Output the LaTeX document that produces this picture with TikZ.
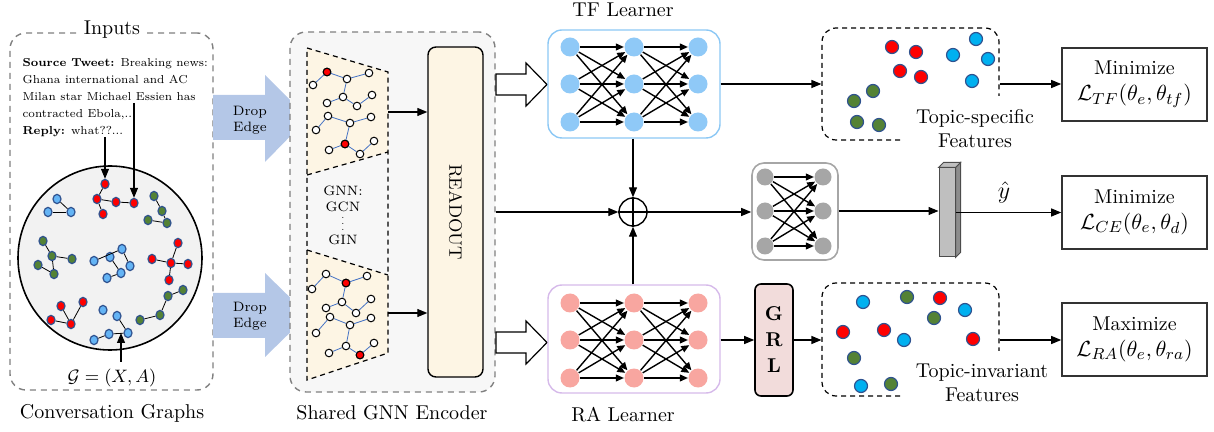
\documentclass[tikz,border=0pt]{standalone}
\usepackage{amsmath,amssymb}
\usepackage{tikz}
\usepackage{xcolor}
\usetikzlibrary{arrows.meta,shapes.geometric,calc}

\definecolor{convbg}{RGB}{242,242,242}
\definecolor{nborder}{RGB}{47,82,143}
\definecolor{nblue}{RGB}{100,180,245}
\definecolor{nred}{RGB}{255,0,0}
\definecolor{ngreen}{RGB}{84,130,53}
\definecolor{fcyan}{RGB}{0,176,240}
\definecolor{dropblue}{RGB}{180,199,231}
\definecolor{cream}{RGB}{253,245,228}
\definecolor{encbg}{RGB}{247,247,247}
\definecolor{tfblue}{RGB}{143,201,247}
\definecolor{tfline}{RGB}{140,200,245}
\definecolor{rapink}{RGB}{248,166,160}
\definecolor{raline}{RGB}{214,186,234}
\definecolor{clsgray}{RGB}{166,166,166}
\definecolor{grlfill}{RGB}{242,220,219}
\definecolor{bargray}{RGB}{191,191,191}
\definecolor{barside}{RGB}{140,140,140}
\definecolor{edgeblue}{RGB}{68,114,196}

\tikzset{
  dashbox/.style={draw=gray, dash pattern=on 3pt off 2.5pt, rounded corners=8pt, line width=0.7pt},
  featbox/.style={draw, dash pattern=on 2.5pt off 2pt, rounded corners=7pt, line width=0.6pt},
  lossbox/.style={draw=black!80, line width=0.8pt, minimum width=72.5pt, minimum height=36.5pt, align=center},
  nnarrow/.style={-{Triangle[length=4pt,width=3.4pt]}, line width=0.7pt},
  fdot/.style={circle, draw=nborder, line width=0.6pt, inner sep=0pt, minimum size=6.5pt},
}

\begin{document}
\begin{tikzpicture}[x=0.5pt, y=-0.5pt, >={Triangle[length=5pt,width=4pt]}, line width=0.6pt]
\useasboundingbox (0,0) rectangle (1214,432);

% ---------- inputs
\node[dashbox, minimum width=101.5pt, minimum height=178.5pt] (inbox) at (111.5,211.5) {};
\node[fill=white, inner sep=2pt] (intitle) at (112,30) {Inputs};
\node (convlabel) at (112,413) {Conversation Graphs};
\node[anchor=north west, inner sep=0pt] (tweet) at (22,54)
  {\scalebox{0.85}{\fontsize{6.8}{10}\selectfont\begin{tabular}{@{}l@{}}
   \textbf{Source Tweet:} Breaking news:\\Ghana international and AC\\Milan star Michael Essien has\\contracted Ebola,...\\\textbf{Reply:} what??...
   \end{tabular}}};
\node[circle, draw, fill=convbg, minimum size=92pt, line width=0.8pt] (conv) at (110,258) {};

\begin{scope}[every node/.style={ellipse, draw=nborder, line width=0.6pt, inner sep=0pt, minimum width=4pt, minimum height=4.6pt}]
  \foreach \n/\x/\y in {ra1/105/184, ra2/97/199, ra3/116/202, ra4/134/203, ra5/103/214,
                         rf1/178/243, rf2/152/259, rf3/171/263, rf4/188/264, rf5/169/280,
                         rg1/61/306, rg2/83/302, rg3/51/320, rg4/71/324}
    \node[fill=nred] (\n) at (\x,\y) {};
  \foreach \n/\x/\y in {bb1/57/199, bb2/48/212, bb3/71/212,
                         be1/94/261, be2/110/257, be3/122/249, be4/130/266, be5/121/273, be6/107/278,
                         bh1/103/310, bh2/117/316, bh3/128/333, bh4/109/334, bh5/94/340}
    \node[fill=nblue] (\n) at (\x,\y) {};
  \foreach \n/\x/\y in {gc1/154/196, gc2/162/211, gc3/148/220, gc4/167/223,
                         gd1/43/241, gd2/52/256, gd3/72/259, gd4/38/265, gd5/54/274,
                         gi1/183/290, gi2/168/296, gi3/160/315, gi4/140/320}
    \node[fill=ngreen] (\n) at (\x,\y) {};
\end{scope}
\foreach \a/\b in {ra1/ra2, ra2/ra3, ra3/ra4, ra2/ra5, bb1/bb3, bb2/bb3,
                   gc1/gc2, gc2/gc4, gc3/gc4, gd1/gd2, gd2/gd3, gd2/gd5, gd4/gd5,
                   be1/be3, be3/be4, be2/be5, be5/be6, rf3/rf1, rf3/rf2, rf3/rf4, rf3/rf5,
                   rg1/rg4, rg2/rg4, rg3/rg4, bh2/bh3, bh3/bh4, bh4/bh5, gi1/gi2, gi2/gi3, gi3/gi4}
  \draw[line width=0.4pt] (\a) -- (\b);

\coordinate (rpl) at (105,137);
\coordinate (src) at (134,103);
\draw[->] (rpl) -- (ra1);
\draw[->] (src) -- (ra4);
\node[font=\small] (glabel) at (112,378) {$\mathcal{G}=(X,A)$};
\coordinate (gtip) at (121,333);
\draw[->] (glabel.north -| gtip) -- (gtip);

% ---------- drop edge
\fill[dropblue] (213,95) -- (265,95) -- (265,75) -- (308,118) -- (265,162) -- (265,140) -- (213,140) -- cycle;
\fill[dropblue] (213,293) -- (265,293) -- (265,273) -- (308,315) -- (265,357) -- (265,338) -- (213,338) -- cycle;
\node[align=center, font=\fontsize{6.8}{8}\selectfont] (drop1) at (250,120) {Drop\\Edge};
\node[align=center, font=\fontsize{6.8}{8}\selectfont] (drop2) at (250,316) {Drop\\Edge};

% ---------- shared encoder
\node[dashbox, fill=encbg, minimum width=102.5pt, minimum height=180pt] (encbox) at (392.5,212) {};
\node (enclabel) at (392,413) {Shared GNN Encoder};
\fill[cream] (307,48) -- (388,72) -- (388,152) -- (307,175) -- cycle;
\fill[cream] (307,250) -- (388,275) -- (388,353) -- (307,380) -- cycle;
\begin{scope}[dash pattern=on 2.5pt off 2pt, line width=0.6pt]
  \draw (307,48) -- (388,72) -- (388,353) -- (307,380) -- cycle;
  \draw (307,175) -- (388,152);
  \draw (307,250) -- (388,275);
\end{scope}
\node[align=center, font=\fontsize{6.8}{8}\selectfont] (gnnlist) at (343,215)
  {GNN:\\GCN\\[-2pt]\scalebox{0.7}{$\vdots$}\\[-1pt]GIN};

\begin{scope}[every node/.style={circle, draw, fill=white, line width=0.5pt, inner sep=0pt, minimum size=3.8pt}]
  \foreach \n/\x/\y in {1/327/72, 2/313/85, 3/347/79, 4/369/73, 5/343/97, 6/327/103, 7/357/106, 8/372/95,
                         9/328/116, 10/316/130, 11/350/123, 12/371/117, 13/345/144, 14/329/150, 15/360/154, 16/374/141}
    \node (u\n) at (\x,\y) {};
  \foreach \n/\x/\y in {1/326/274, 2/312/289, 3/346/283, 4/367/276, 5/342/302, 6/326/308, 7/356/313, 8/371/299,
                         9/330/317, 10/316/333, 11/350/325, 12/371/318, 13/346/346, 14/329/353, 15/360/355, 16/374/343}
    \node (l\n) at (\x,\y) {};
  \node[fill=nred] at (u1) {};
  \node[fill=nred] at (u13) {};
  \node[fill=nred] at (l3) {};
  \node[fill=nred] at (l15) {};
\end{scope}
\foreach \a/\b in {2/1, 1/3, 3/4, 3/5, 5/6, 5/7, 7/8, 10/9, 9/11, 11/12, 11/13, 13/14, 13/15, 15/16} {
  \draw[edgeblue, line width=0.4pt] (u\a) -- (u\b);
  \draw[edgeblue, line width=0.4pt] (l\a) -- (l\b);
}

\node[draw, rounded corners=4pt, fill=cream, line width=0.7pt, minimum width=27.5pt, minimum height=165pt] (readout) at (455.5,212) {};
\node[rotate=-90, font=\fontsize{9}{11}\selectfont] (readtext) at (readout.center) {READOUT};
\coordinate (trapA) at (388,112);
\coordinate (trapB) at (388,313);
\draw[->] (trapA) -- (trapA -| readout.west);
\draw[->] (trapB) -- (trapB -| readout.west);

% ---------- learners
\draw[fill=white] (496,74) -- (526,74) -- (526,63) -- (547,84.5) -- (526,106) -- (526,95) -- (496,95) -- cycle;
\draw[fill=white] (496,332) -- (526,332) -- (526,321) -- (547,342.5) -- (526,364) -- (526,353) -- (496,353) -- cycle;

\node[draw=tfline, rounded corners=7pt, fill=white, line width=0.7pt, minimum width=86pt, minimum height=54pt] (tfbox) at (634,84) {};
\node[draw=raline, rounded corners=7pt, fill=white, line width=0.7pt, minimum width=86pt, minimum height=54pt] (rabox) at (634,339) {};
\node (tftitle) at (623,10) {TF Learner};
\node (ratitle) at (623,415) {RA Learner};

\begin{scope}[every node/.style={circle, inner sep=0pt, minimum size=9.5pt}]
  \foreach \c/\x in {1/570, 2/634, 3/698} {
    \foreach \r/\y in {1/47, 2/84, 3/122}
      \node[fill=tfblue] (tf\c\r) at (\x,\y) {};
    \foreach \r/\y in {1/303, 2/340, 3/378}
      \node[fill=rapink] (ra\c\r) at (\x,\y) {};
  }
\end{scope}
\foreach \i in {1,2,3}
  \foreach \j in {1,2,3} {
    \draw[nnarrow] (tf1\i) -- (tf2\j);
    \draw[nnarrow] (tf2\i) -- (tf3\j);
    \draw[nnarrow] (ra1\i) -- (ra2\j);
    \draw[nnarrow] (ra2\i) -- (ra3\j);
  }

% ---------- fusion and classifier
\node[circle, draw, inner sep=0pt, minimum size=14pt, line width=0.7pt] (oplus) at (633,212) {};
\draw (oplus.north) -- (oplus.south) (oplus.west) -- (oplus.east);
\draw[->] (encbox.east |- oplus) -- (oplus.west);
\draw[->] (tfbox.south -| oplus) -- (oplus.north);
\draw[->] (rabox.north -| oplus) -- (oplus.south);

\node[draw=clsgray, rounded corners=6pt, line width=0.8pt, minimum width=43pt, minimum height=48.5pt] (cls) at (795,211.5) {};
\begin{scope}[every node/.style={circle, fill=clsgray, inner sep=0pt, minimum size=8.5pt}]
  \foreach \c/\x in {1/765, 2/823}
    \foreach \r/\y in {1/177, 2/211, 3/246}
      \node (cl\c\r) at (\x,\y) {};
\end{scope}
\foreach \i in {1,2,3}
  \foreach \j in {1,2,3}
    \draw[nnarrow] (cl1\i) -- (cl2\j);
\draw[->] (oplus.east) -- (oplus.east -| cls.west);

\node[draw=black!70, fill=bargray, minimum width=8pt, minimum height=44.5pt, inner sep=0pt, line width=0.5pt] (bar) at (947,212.5) {};
\filldraw[draw=black!70, fill=barside, line width=0.5pt] (bar.north east) -- ++(5,-5) -- ($(bar.south east)+(5,-5)$) -- (bar.south east) -- cycle;
\filldraw[draw=black!70, fill=bargray, line width=0.5pt] (bar.north west) -- ++(5,-5) -- ($(bar.north east)+(5,-5)$) -- (bar.north east) -- cycle;
\draw[->] (cls.east |- cl12) -- (cls.east |- cl12 -| bar.west);

% ---------- GRL
\node[draw, rounded corners=3pt, fill=grlfill, line width=0.8pt, minimum width=19pt, minimum height=56pt, align=center, font=\bfseries] (grl) at (774,340) {G\\[1pt]R\\[1pt]L};
\draw[->] (rabox.east |- grl) -- (grl.west);

% ---------- feature spaces
\node[minimum width=88.5pt, minimum height=56pt] (ts) at (910.5,84) {};
\node[minimum width=88.5pt, minimum height=56.5pt] (ti) at (910.5,339.5) {};
\draw[featbox] (900,140) -- (822,140) -- (822,28) -- (999,28) -- (999,96);
\draw[featbox] (900,396) -- (822,396) -- (822,283) -- (999,283) -- (999,351);
\foreach \x/\y in {892/47, 916/52, 900/71, 921/77, 940/298, 843/332, 884/330, 973/339}
  \node[fdot, fill=nred] at (\x,\y) {};
\foreach \x/\y in {976/39, 953/55, 988/59, 972/81, 863/302, 965/310, 904/340, 861/386}
  \node[fdot, fill=fcyan] at (\x,\y) {};
\foreach \x/\y in {873/91, 854/101, 857/122, 879/125, 907/297, 934/318, 854/358, 891/384}
  \node[fdot, fill=ngreen] at (\x,\y) {};
\node[align=center] (tstext) at (975,129) {Topic-specific\\Features};
\node[align=center] (titext) at (982,383) {Topic-invariant\\Features};
\draw[->] (tfbox.east) -- (tfbox.east -| ts.west);
\draw[->] (grl.east) -- (grl.east -| ti.west);

% ---------- losses
\node[lossbox] (tfloss) at (1134.5,84.5) {Minimize\\[1pt]\fontsize{11}{13}\selectfont$\mathcal{L}_{TF}(\theta_e,\theta_{tf})$};
\node[lossbox] (celoss) at (1134.5,212.5) {Minimize\\[1pt]\fontsize{11}{13}\selectfont$\mathcal{L}_{CE}(\theta_e,\theta_d)$};
\node[lossbox] (raloss) at (1134.5,339.5) {Maximize\\[1pt]\fontsize{11}{13}\selectfont$\mathcal{L}_{RA}(\theta_e,\theta_{ra})$};
\draw[->] (ts.east |- tfbox) -- (ts.east |- tfbox -| tfloss.west);
\draw[->] (bar.east) -- (bar.east -| celoss.west);
\draw[->] (ti.east |- grl) -- (ti.east |- grl -| raloss.west);
\node[font=\large] (yhat) at (1004,193) {$\hat{y}$};

\end{tikzpicture}
\end{document}
